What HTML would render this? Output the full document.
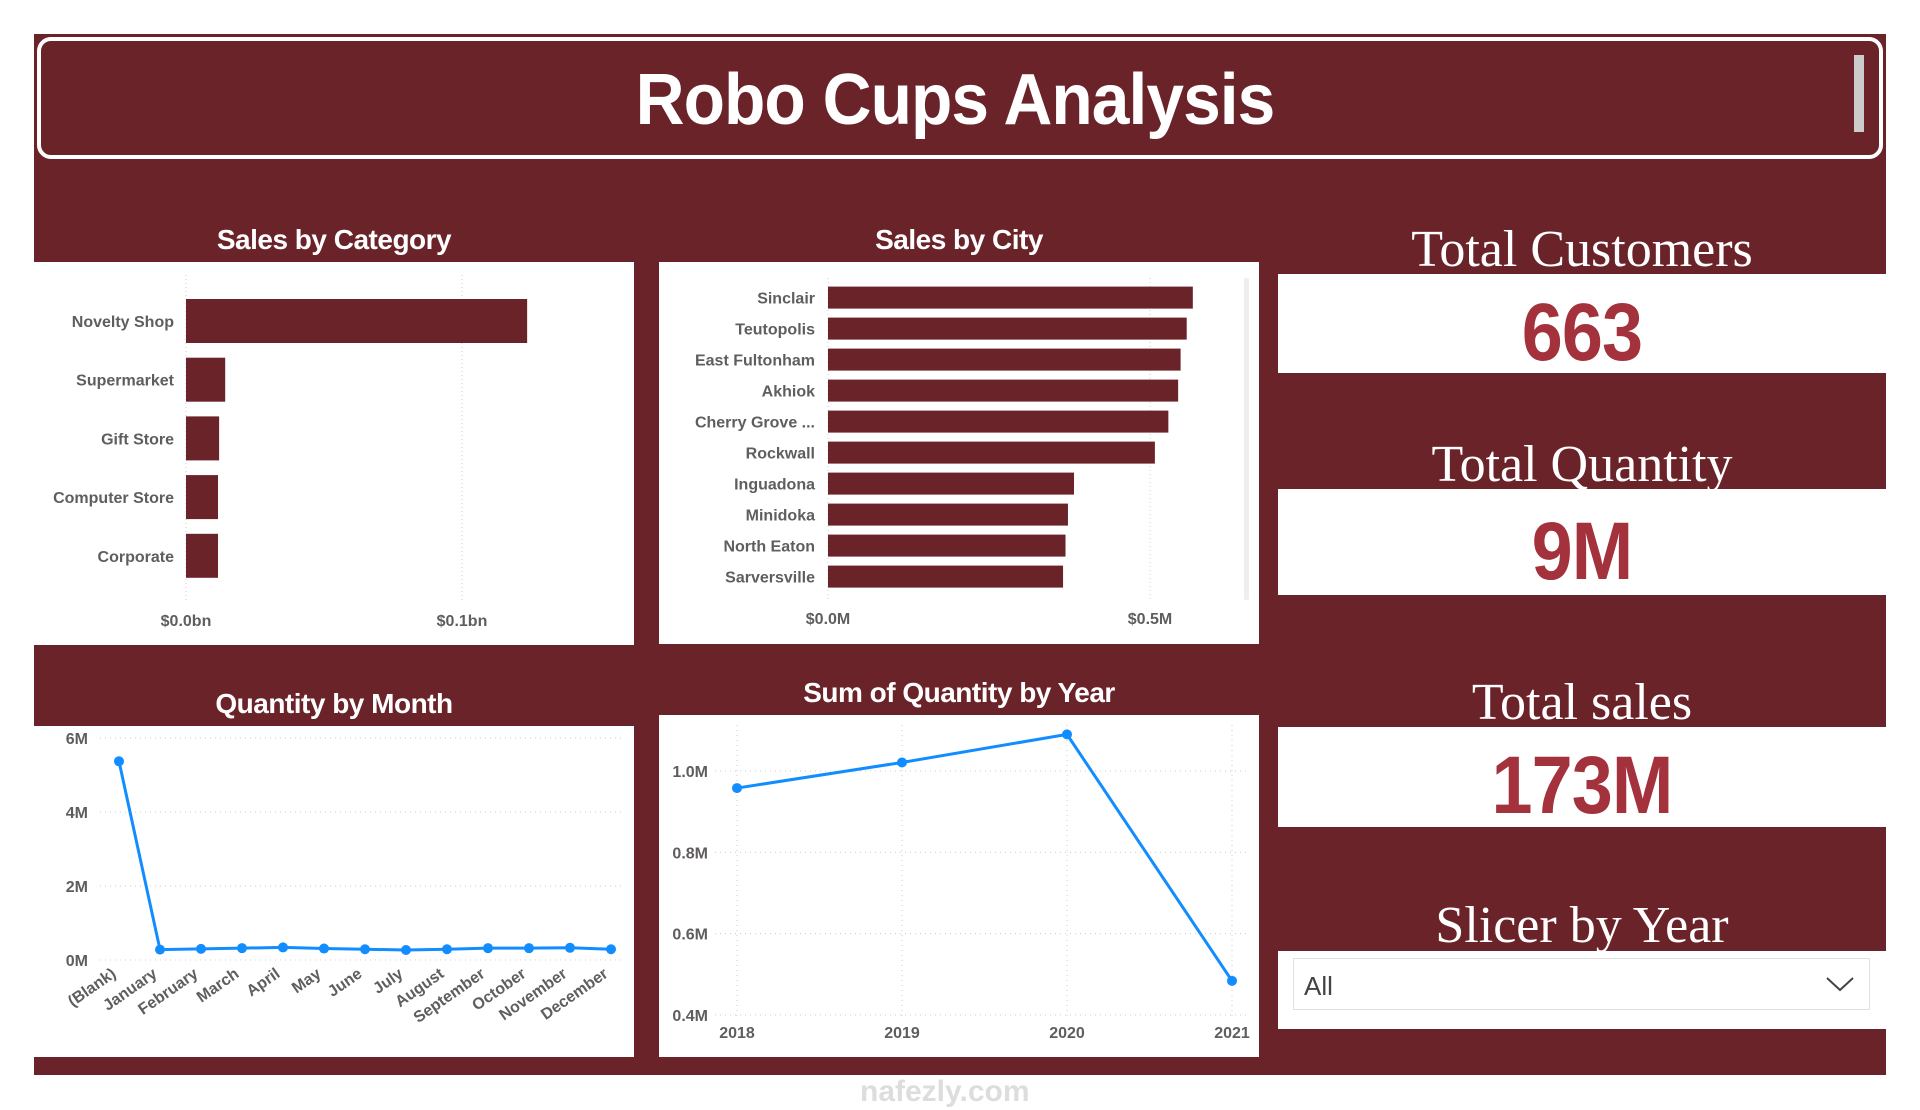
<!DOCTYPE html>
<html><head><meta charset="utf-8"><style>
*{margin:0;padding:0;box-sizing:border-box}
body{width:1920px;height:1110px;background:#fff;position:relative;overflow:hidden;font-family:"Liberation Sans",sans-serif}
.abs{position:absolute}
.maroon{background:#6b232a}
.white{background:#fff}
.ptitle{position:absolute;color:#fff;font-weight:bold;font-size:28px;text-align:center;letter-spacing:-0.5px}
.kt{position:absolute;left:1278px;width:608px;text-align:center;color:#fff;font-family:"Liberation Serif",serif;font-size:52px;line-height:1}
.kv{position:absolute;left:1278px;width:608px;text-align:center;color:#a3323d;font-weight:bold;font-size:82px;line-height:1;letter-spacing:-1px;transform:scaleX(0.9)}
svg text{font-family:"Liberation Sans",sans-serif;font-weight:bold;fill:#605e5c}
</style></head><body>
<div class="abs maroon" style="left:34px;top:34px;width:1852px;height:1041px"></div>
<div class="abs" style="left:37px;top:37px;width:1846px;height:122px;border:4px solid #fff;border-radius:14px;background:#6b232a"></div>
<div class="abs" style="left:37px;top:64px;width:1836px;text-align:center;color:#fff;font-weight:bold;font-size:72px;line-height:1;letter-spacing:-1px;transform:scaleX(0.94)">Robo Cups Analysis</div>
<div class="abs" style="left:1854px;top:55px;width:10px;height:77px;background:#ccc"></div>

<div class="abs white" style="left:34px;top:262px;width:600px;height:383px"></div>
<div class="ptitle" style="left:34px;top:224px;width:600px">Sales by Category</div>
<div class="abs white" style="left:659px;top:262px;width:600px;height:382px"></div>
<div class="ptitle" style="left:659px;top:224px;width:600px">Sales by City</div>
<div class="abs white" style="left:34px;top:726px;width:600px;height:331px"></div>
<div class="ptitle" style="left:34px;top:688px;width:600px">Quantity by Month</div>
<div class="abs white" style="left:659px;top:715px;width:600px;height:342px"></div>
<div class="ptitle" style="left:659px;top:677px;width:600px">Sum of Quantity by Year</div>

<div class="abs white" style="left:1278px;top:274px;width:608px;height:99px"></div>
<div class="kt" style="top:224px">Total Customers</div>
<div class="kv" style="top:292px">663</div>
<div class="abs white" style="left:1278px;top:489px;width:608px;height:106px"></div>
<div class="kt" style="top:439px">Total Quantity</div>
<div class="kv" style="top:511px">9M</div>
<div class="abs white" style="left:1278px;top:727px;width:608px;height:100px"></div>
<div class="kt" style="top:677px">Total sales</div>
<div class="kv" style="top:745px">173M</div>
<div class="abs white" style="left:1278px;top:951px;width:608px;height:78px"></div>
<div class="kt" style="top:900px">Slicer by Year</div>
<div class="abs" style="left:1293px;top:958px;width:577px;height:52px;border:1px solid #e0e0e0;background:#fff">
<span style="position:absolute;left:10px;top:12px;font-size:26px;color:#444">All</span>
<svg style="position:absolute;right:14px;top:16px" width="30" height="18"><polyline points="2,3 15,15 28,3" fill="none" stroke="#444" stroke-width="2"/></svg>
</div>
<div class="abs" style="left:860px;top:1075px;font-size:30px;color:#ddd;font-weight:bold">nafezly.com</div>

<svg class="abs" style="left:0;top:0" width="1920" height="1110" id="charts"></svg>

<script>
const catNames=["Novelty Shop","Supermarket","Gift Store","Computer Store","Corporate"];
const catValues=[0.1236,0.0142,0.012,0.0116,0.0116];
const catTicks=[0,0.1];
const catTickLabels=["$0.0bn","$0.1bn"];

const cityNames=["Sinclair","Teutopolis","East Fultonham","Akhiok","Cherry Grove ...","Rockwall","Inguadona","Minidoka","North Eaton","Sarversville"];
const cityValues=[0.5665,0.557,0.5475,0.5437,0.5285,0.5076,0.382,0.3726,0.3688,0.365];
const cityTicks=[0,0.5];
const cityTickLabels=["$0.0M","$0.5M"];

const months=["(Blank)","January","February","March","April","May","June","July","August","September","October","November","December"];
const monthValues=[5.37,0.28,0.3,0.32,0.34,0.31,0.29,0.27,0.29,0.32,0.32,0.33,0.29];
const monthTicks=[0,2,4,6];
const monthTickLabels=["0M","2M","4M","6M"];

const years=["2018","2019","2020","2021"];
const yearValues=[0.958,1.021,1.09,0.484];
const yearTicks=[0.4,0.6,0.8,1.0];
const yearTickLabels=["0.4M","0.6M","0.8M","1.0M"];

const svg=document.getElementById('charts');
const NS="http://www.w3.org/2000/svg";
function mk(tag,attrs,parent){const e=document.createElementNS(NS,tag);for(const k in attrs)e.setAttribute(k,attrs[k]);(parent||svg).appendChild(e);return e;}

const cx=v=>186+v*(462-186)/0.1;
const cy=i=>321+i*58.7;
catTicks.forEach((t,i)=>{
  const g=mk('line',{x1:cx(t),x2:cx(t),y1:275,y2:600,stroke:'#ccc','stroke-dasharray':'1,3'});
  
  
  const tx=mk('text',{x:cx(t),y:626,'text-anchor':'middle','font-size':16});tx.textContent=catTickLabels[i];
  
  
});
catNames.forEach((n,i)=>{
  const r=mk('rect',{x:cx(0),y:cy(i)-22,width:cx(catValues[i])-cx(0),height:44,fill:'#6b232a'});
  
  
  const t=mk('text',{x:174,y:cy(i)+6,'text-anchor':'end','font-size':16});t.textContent=n;
  
  
});

const sx=v=>828+v*(1150-828)/0.5;
const sy=i=>297.6+i*31;
cityTicks.forEach((t,i)=>{
  const g=mk('line',{x1:sx(t),x2:sx(t),y1:278,y2:600,stroke:'#ccc','stroke-dasharray':'1,3'});
  
  
  const tx=mk('text',{x:sx(t),y:624,'text-anchor':'middle','font-size':16});tx.textContent=cityTickLabels[i];
  
  
});
cityNames.forEach((n,i)=>{
  const r=mk('rect',{x:sx(0),y:sy(i)-11,width:sx(cityValues[i])-sx(0),height:22,fill:'#6b232a'});
  
  
  const t=mk('text',{x:815,y:sy(i)+6,'text-anchor':'end','font-size':16});t.textContent=n;
  
  
});
const sb=mk('rect',{x:1244,y:278,width:5,height:322,rx:2,fill:'#eee'});



const mx=i=>119+i*(611-119)/12;
const my=v=>960-v*(960-738)/6;
monthTicks.forEach((t,i)=>{
  const g=mk('line',{x1:100,x2:625,y1:my(t),y2:my(t),stroke:'#ccc','stroke-dasharray':'1,4'});
  
  
  const tx=mk('text',{x:88,y:my(t)+6,'text-anchor':'end','font-size':16});tx.textContent=monthTickLabels[i];
  
  
});
const mline=mk('polyline',{points:monthValues.map((v,i)=>mx(i)+','+my(v)).join(' '),fill:'none',stroke:'#118dff','stroke-width':3});


months.forEach((m,i)=>{
  const c=mk('circle',{cx:mx(i),cy:my(monthValues[i]),r:5,fill:'#118dff'});
  
  
  const t=mk('text',{x:mx(i)-2,y:976,'text-anchor':'end','font-size':16,transform:'rotate(-35 '+(mx(i)-2)+' 976)'});t.textContent=m;
  
  
});

const yx=i=>737+i*(1232-737)/3;
const yy=v=>1015-(v-0.4)*(1015-771)/0.6;
yearTicks.forEach((t,i)=>{
  const g=mk('line',{x1:715,x2:1250,y1:yy(t),y2:yy(t),stroke:'#ccc','stroke-dasharray':'1,4'});
  
  
  const tx=mk('text',{x:708,y:yy(t)+6,'text-anchor':'end','font-size':16});tx.textContent=yearTickLabels[i];
  
  
});
years.forEach((y,i)=>{
  const g=mk('line',{x1:yx(i),x2:yx(i),y1:725,y2:1018,stroke:'#ccc','stroke-dasharray':'1,4'});
  
  
});
const yline=mk('polyline',{points:yearValues.map((v,i)=>yx(i)+','+yy(v)).join(' '),fill:'none',stroke:'#118dff','stroke-width':3});


years.forEach((y,i)=>{
  const c=mk('circle',{cx:yx(i),cy:yy(yearValues[i]),r:5,fill:'#118dff'});
  
  
  const t=mk('text',{x:yx(i),y:1038,'text-anchor':'middle','font-size':16});t.textContent=y;
  
  
});
</script>
</body></html>
